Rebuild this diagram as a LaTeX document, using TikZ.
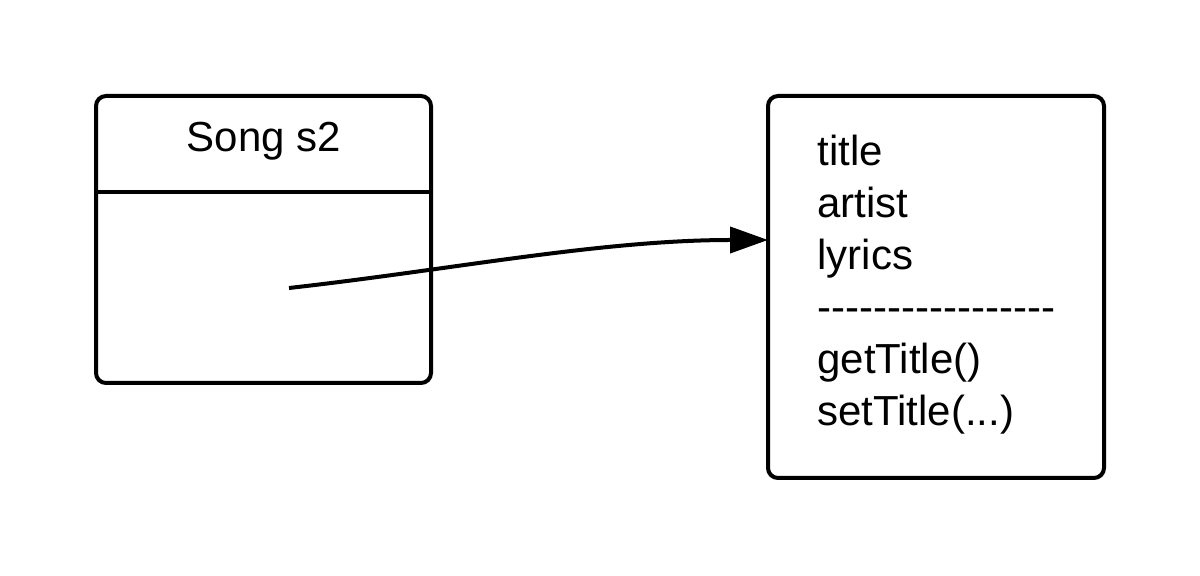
\documentclass[tikz,border=0pt]{standalone}
\usepackage{fontspec}
\setmainfont{Liberation Sans}
\newfontfamily\rawfont{Liberation Sans}
\usetikzlibrary{arrows.meta}
\begin{document}
\begin{tikzpicture}[x=0.5pt,y=-0.5pt,
  objbox/.style={draw, line width=2pt, rounded corners=5pt, inner sep=0pt, outer sep=0pt},
  lbl/.style={inner sep=0pt, font=\fontsize{21}{26}\selectfont},
  conn/.style={line width=2pt, -{Triangle[length=19pt,width=13pt]}}]
\useasboundingbox (0,0) rectangle (1200,576);
\node[objbox, minimum width=167.5pt, minimum height=143.5pt] (song) at (263.5,239.5) {};
\draw[line width=2pt] (song.west |- 0,192) -- (song.east |- 0,192);
\node[lbl, anchor=base] (songname) at (264,152) {Song s2};
\node[objbox, minimum width=168pt, minimum height=191pt] (obj) at (936,287) {};
\node[lbl, anchor=base west] (f1) at (817,166) {title};
\node[lbl, anchor=base west] (f2) at (817,218) {artist};
\node[lbl, anchor=base west] (f3) at (817,270) {lyrics};
\node[lbl, anchor=base west] (sep) at (817,322) {\rawfont -\kern0pt-\kern0pt-\kern0pt-\kern0pt-\kern0pt-\kern0pt-\kern0pt-\kern0pt-\kern0pt-\kern0pt-\kern0pt-\kern0pt-\kern0pt-\kern0pt-\kern0pt-\kern0pt-};
\node[lbl, anchor=base west] (m1) at (817,374) {getTitle()};
\node[lbl, anchor=base west] (m2) at (817,426) {setTitle(...)};
\coordinate (ref) at (289,288);
\coordinate (tip) at (obj.west |- 0,240);
\draw[conn] (ref) .. controls (450,270) and (600,240) .. (tip);
\end{tikzpicture}
\end{document}
